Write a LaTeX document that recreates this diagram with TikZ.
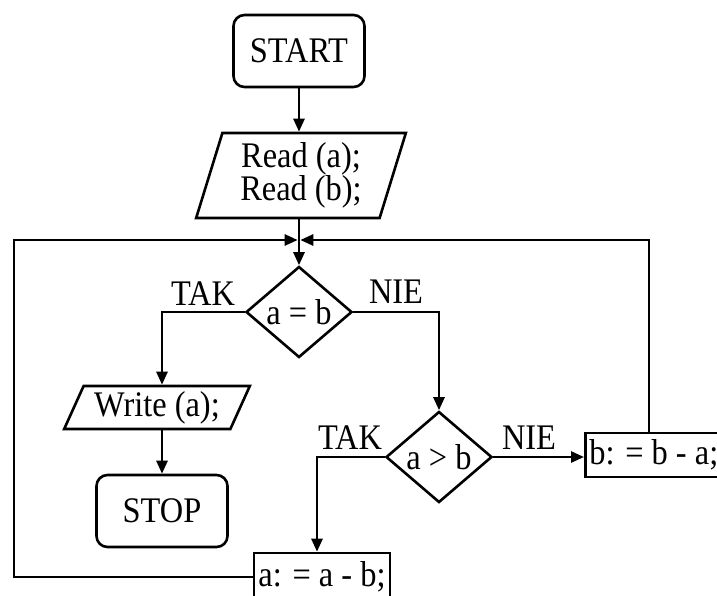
\documentclass[tikz,border=0pt]{standalone}
\usepackage{fontspec}
\setmainfont{Liberation Serif}[FakeStretch=0.9]
\usetikzlibrary{shapes.geometric,arrows.meta}
\begin{document}
\begin{tikzpicture}[x=1pt,y=-1pt,
  every node/.style={font=\fontsize{36}{30}\selectfont},
  ln/.style={line width=2.6pt, line join=miter},
  arr/.style={ln, -{Triangle[length=13pt,width=11pt]}},
  term/.style={ln, draw, rectangle, rounded corners=11pt, minimum width=131pt, minimum height=72pt, inner sep=0pt},
  io/.style={ln, draw, trapezium, trapezium stretches=true, inner sep=0pt},
  dec/.style={ln, draw, diamond, inner sep=0pt, minimum width=106pt, minimum height=91pt},
  proc/.style={ln, draw, rectangle, inner sep=0pt},
  lbl/.style={inner sep=0pt, anchor=base}]
\useasboundingbox (0,0) rectangle (717,595);
\clip (0,0) rectangle (717,595);

\node[term] (start) at (299,51) {START};
\node[io, trapezium left angle=73, trapezium right angle=107,
      minimum width=210pt, minimum height=85pt, align=center] (read) at (301,175.5) {Read (a);\\Read (b);};
\node[dec] (d1) at (299,312) {a = b};
\node[io, trapezium left angle=63, trapezium right angle=117,
      minimum width=186pt, minimum height=43pt] (write) at (157,407.5) {Write (a);};
\node[term] (stop) at (162,511) {STOP};
\node[dec] (d2) at (439,457) {a > b};
\node[proc, minimum width=142pt, minimum height=44pt, inner xsep=4pt, anchor=west] (bbox) at (584,455) {b: = b - a;\hspace*{14pt}};
\node[proc, minimum width=136pt, minimum height=48pt] (abox) at (322,577) {a: = a - b;};

\coordinate (j)  at (299,240);
\coordinate (jl) at (14,240);
\coordinate (jr) at (649,240);

\node[lbl] (tak1) at (203,305) {TAK};
\node[lbl] (nie1) at (396,303) {NIE};
\node[lbl] (tak2) at (350,449) {TAK};
\node[lbl] (nie2) at (529,449) {NIE};

\draw[arr] (start.south) -- (start.south |- read.north);
\draw[arr] (j |- read.south) -- (d1.north);
\draw[arr] (abox.west) -| (jl) -- ([xshift=-1.3pt]j);
\draw[arr] (bbox.north -| jr) -- (jr) -- ([xshift=1.3pt]j);
\draw[arr] (d1.west) -| (stop.north |- write.north);
\draw[arr] (stop.north |- write.south) -- (stop.north);
\draw[arr] (d1.east) -| (d2.north);
\draw[arr] (d2.west) -| ([xshift=-5pt]abox.north);
\draw[arr] (d2.east) -- (d2.east -| bbox.west);
\end{tikzpicture}
\end{document}
